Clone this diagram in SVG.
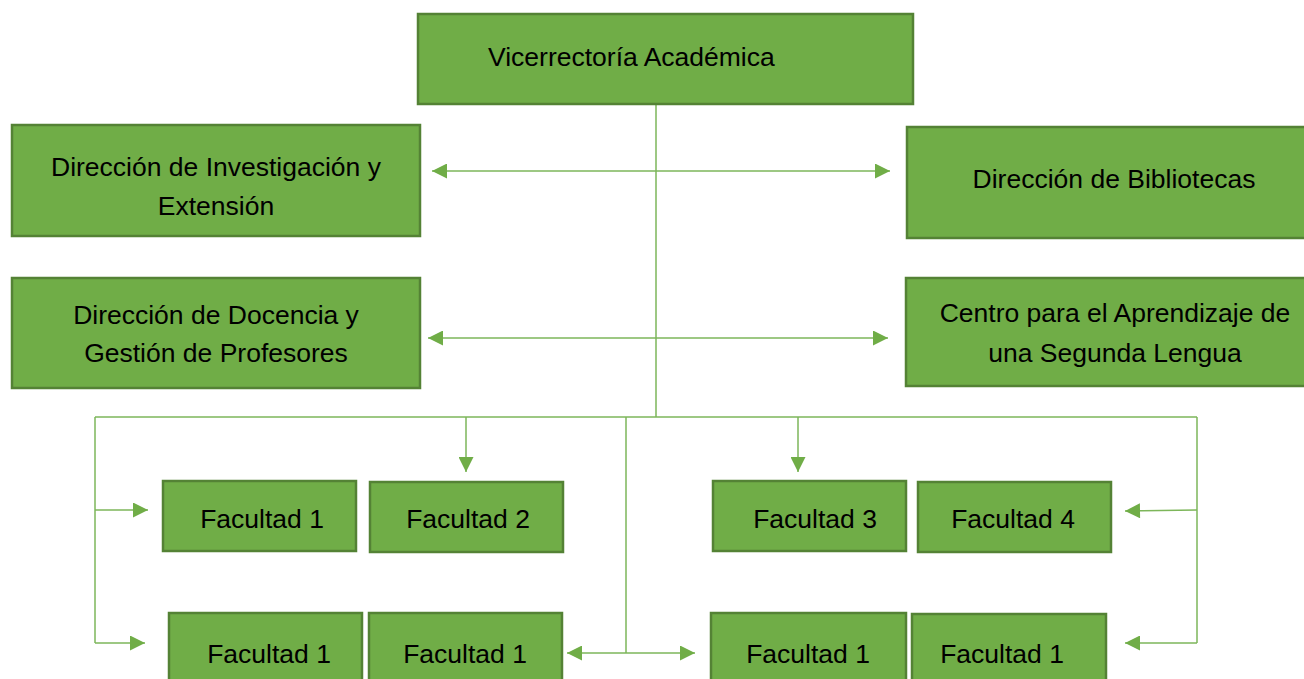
<svg xmlns="http://www.w3.org/2000/svg" width="1304" height="679" viewBox="0 0 1304 679">
<style>
.box{fill:#70AD47;stroke:#548235;stroke-width:2.5}
.t{font-family:"Liberation Sans",Arial,sans-serif;font-size:26.5px;fill:#000;text-anchor:middle}
.ln{fill:none;stroke:#7DB65A;stroke-width:1.5}
</style>
<defs>
<marker id="ah" viewBox="0 0 10 10" refX="10" refY="5" markerWidth="16" markerHeight="15" markerUnits="userSpaceOnUse" orient="auto-start-reverse">
<path d="M0,0 L10,5 L0,10 Z" fill="#70AD47"/>
</marker>
</defs>
<rect width="1304" height="679" fill="#fff"/>
<g id="connectors">
<line class="ln" x1="656" y1="104" x2="656" y2="417"/>
<line class="ln" x1="432" y1="171" x2="890" y2="171" marker-start="url(#ah)" marker-end="url(#ah)"/>
<line class="ln" x1="428" y1="338" x2="888" y2="338" marker-start="url(#ah)" marker-end="url(#ah)"/>
<line class="ln" x1="95" y1="417" x2="1197" y2="417"/>
<line class="ln" x1="95" y1="417" x2="95" y2="643"/>
<line class="ln" x1="95" y1="510" x2="148" y2="510" marker-end="url(#ah)"/>
<line class="ln" x1="95" y1="643" x2="145" y2="643" marker-end="url(#ah)"/>
<line class="ln" x1="466" y1="417" x2="466" y2="472" marker-end="url(#ah)"/>
<line class="ln" x1="798" y1="417" x2="798" y2="472" marker-end="url(#ah)"/>
<line class="ln" x1="626" y1="417" x2="626" y2="653"/>
<line class="ln" x1="567" y1="653" x2="695" y2="653" marker-start="url(#ah)" marker-end="url(#ah)"/>
<line class="ln" x1="1197" y1="417" x2="1197" y2="643"/>
<line class="ln" x1="1197" y1="510" x2="1125" y2="511" marker-end="url(#ah)"/>
<line class="ln" x1="1197" y1="643" x2="1125" y2="643" marker-end="url(#ah)"/>
</g>
<g id="n-vice"><rect class="box" x="418" y="14" width="495" height="90"/><text class="t" x="488" y="66" style="text-anchor:start">Vicerrectoría Académica</text></g>
<g id="n-inv"><rect class="box" x="12" y="125" width="408" height="111"/><text class="t" x="216" y="176">Dirección de Investigación y</text><text class="t" x="216" y="215">Extensión</text></g>
<g id="n-bib"><rect class="box" x="907" y="127" width="400" height="111"/><text class="t" x="1114" y="188">Dirección de Bibliotecas</text></g>
<g id="n-doc"><rect class="box" x="12" y="278" width="408" height="110"/><text class="t" x="216" y="324">Dirección de Docencia y</text><text class="t" x="216" y="362">Gestión de Profesores</text></g>
<g id="n-cen"><rect class="box" x="906" y="278" width="400" height="108"/><text class="t" x="1115" y="322">Centro para el Aprendizaje de</text><text class="t" x="1115" y="362">una Segunda Lengua</text></g>
<g id="n-f1"><rect class="box" x="163" y="481" width="193" height="70"/><text class="t" x="262" y="528">Facultad 1</text></g>
<g id="n-f2"><rect class="box" x="370" y="482" width="193" height="70"/><text class="t" x="468" y="528">Facultad 2</text></g>
<g id="n-f3"><rect class="box" x="713" y="481" width="193" height="70"/><text class="t" x="815" y="528">Facultad 3</text></g>
<g id="n-f4"><rect class="box" x="918" y="482" width="193" height="70"/><text class="t" x="1013" y="528">Facultad 4</text></g>
<g id="n-f5"><rect class="box" x="169" y="613" width="193" height="80"/><text class="t" x="269" y="663">Facultad 1</text></g>
<g id="n-f6"><rect class="box" x="369" y="613" width="193" height="80"/><text class="t" x="465" y="663">Facultad 1</text></g>
<g id="n-f7"><rect class="box" x="711" y="613" width="195" height="80"/><text class="t" x="808" y="663">Facultad 1</text></g>
<g id="n-f8"><rect class="box" x="912" y="614" width="194" height="80"/><text class="t" x="1002" y="663">Facultad 1</text></g>
</svg>
